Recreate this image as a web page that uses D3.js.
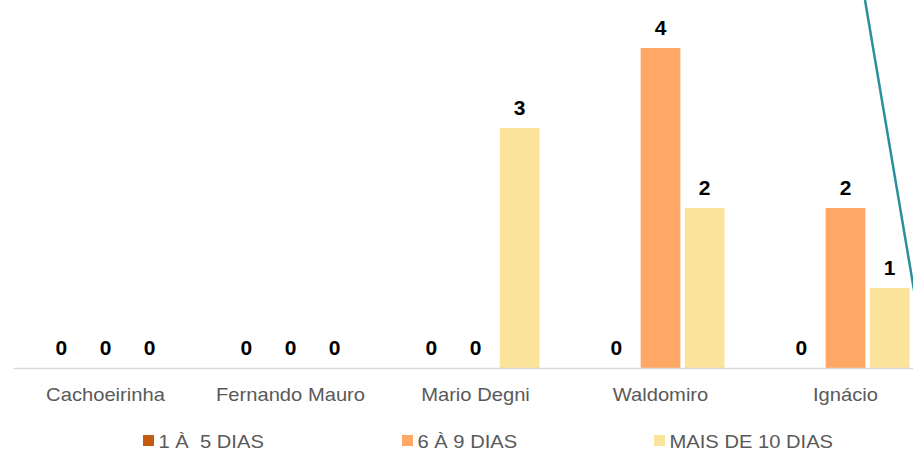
<!DOCTYPE html>
<html>
<head>
<meta charset="utf-8">
<script src="https://cdn.jsdelivr.net/npm/d3@7"></script>
<style>
  body { margin: 0; background: #fff; }
  text { font-family: "Liberation Sans", Arial, sans-serif; }
</style>
</head>
<body>
<svg id="chart"></svg>
<script>
var width = 913;
var height = 450;

var categories = ["Cachoeirinha", "Fernando Mauro", "Mario Degni", "Waldomiro", "Ignácio"];
var seriesNames = ["1 À  5 DIAS", "6 À 9 DIAS", "MAIS DE 10 DIAS"];
var serie1a5 = [0, 0, 0, 0, 0];
var serie6a9 = [0, 0, 0, 4, 2];
var serieMais10 = [0, 0, 3, 2, 1];
var colors = ["#C55A11", "#FFA866", "#FBE39C"];

var seriesValues = [serie1a5, serie6a9, serieMais10];

// the picture is a bit stretched sideways, so text is too
var stretch = "scale(1.12,1)";

var svg = d3.select("#chart")
  .attr("width", width)
  .attr("height", height);

var baseY = 368;

var x0 = d3.scaleBand()
  .domain(categories)
  .range([13, 13 + 5 * 185])
  .paddingInner(0)
  .paddingOuter(0);

var x1 = d3.scaleBand()
  .domain(d3.range(seriesNames.length))
  .range([x0.bandwidth() / 2 - 64, x0.bandwidth() / 2 + 64])
  .paddingInner(0.1);

var y = d3.scaleLinear()
  .domain([0, 4])
  .range([baseY, 48]);

// one row per bar
var rows = [];
categories.forEach(function(c, i) {
  seriesValues.forEach(function(vals, s) {
    rows.push({cat: c, s: s, v: vals[i]});
  });
});

var groups = svg.append("g");

groups.selectAll("rect.bar")
  .data(rows.filter(function(d) { return d.v > 0; }))
  .enter()
  .append("rect")
  .attr("class", "bar")
  .attr("x", function(d) { return x0(d.cat) + x1(d.s); })
  .attr("y", function(d) { return y(d.v); })
  .attr("width", x1.bandwidth())
  .attr("height", function(d) { return baseY - y(d.v); })
  .attr("fill", function(d) { return colors[d.s]; });

groups.selectAll("text.val")
  .data(rows)
  .enter()
  .append("text")
  .attr("class", "val")
  .attr("transform", function(d) {
    var cx = x0(d.cat) + x1(d.s) + x1.bandwidth() / 2;
    return "translate(" + cx + "," + (y(d.v) - 13.5) + ") scale(1.05,1)";
  })
  .attr("text-anchor", "middle")
  .attr("font-size", "20px")
  .attr("font-weight", "bold")
  .attr("fill", "#000")
  .text(function(d) { return d.v; });

// x axis
var xAxis = svg.append("g")
  .attr("transform", "translate(0," + baseY + ")")
  .call(d3.axisBottom(x0).tickSize(0).tickPadding(20));
xAxis.select(".domain").attr("stroke", "#d9d9d9").attr("stroke-width", 1.5);
xAxis.selectAll("text")
  .attr("font-size", "18px")
  .attr("fill", "#595959")
  .attr("transform", stretch)
  .style("font-family", "'Liberation Sans', Arial, sans-serif");

// teal line cutting the right edge
svg.append("line")
  .attr("x1", 865).attr("y1", 0)
  .attr("x2", 915).attr("y2", 296)
  .attr("stroke", "#2A8F9A")
  .attr("stroke-width", 2.5);

// legend
var legendX = [143, 402, 654];
var legend = svg.append("g").attr("transform", "translate(0,435)");
var items = legend.selectAll("g.item")
  .data(seriesNames)
  .enter()
  .append("g")
  .attr("class", "item")
  .attr("transform", function(d, i) { return "translate(" + legendX[i] + ",0)"; });
items.append("rect")
  .attr("x", 0).attr("y", 0)
  .attr("width", 11).attr("height", 11)
  .attr("fill", function(d, i) { return colors[i]; });
items.append("text")
  .attr("transform", "translate(15.5,12.7) " + stretch)
  .attr("font-size", "18px")
  .attr("fill", "#595959")
  .style("white-space", "pre")
  .text(function(d) { return d; });
</script>
</body>
</html>
